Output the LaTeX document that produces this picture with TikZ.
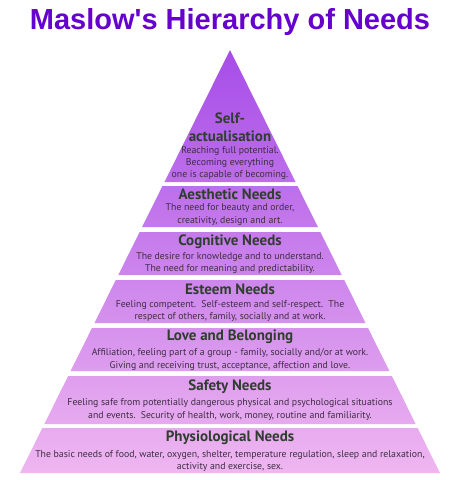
\documentclass[tikz,border=0pt]{standalone}
\usepackage{fontspec}
\setmainfont{PT Sans}
\newfontfamily\titlefont{Liberation Sans}
\definecolor{titlepurple}{HTML}{6600CC}
\definecolor{topviolet}{HTML}{A64DE8}
\definecolor{lowpink}{HTML}{EFB6F0}
\definecolor{headgreen}{HTML}{2F3E2F}
\definecolor{bodygrey}{HTML}{3D2E42}

\begin{document}
\begin{tikzpicture}[x=1pt,y=-1pt]
	\tikzstyle{head} = [font=\bfseries\fontsize{15}{18}\selectfont,text=headgreen,align=center,inner sep=0]
	\tikzstyle{desc} = [font=\fontsize{9.8}{12.3}\selectfont,text=bodygrey,align=center,inner sep=0]
	\useasboundingbox (0,0) rectangle (460,480);
	\node[font=\titlefont\bfseries\fontsize{29}{30}\selectfont,text=titlepurple](title)at(230,22){Maslow's Hierarchy of Needs};
	% layers of the pyramid, top to bottom
	\foreach \ya/\yb in {50/182,186/227,232/275,280/323,328/371,376/424,428/473}{
		\pgfmathsetmacro\wa{(\ya-50)*0.4965}
		\pgfmathsetmacro\wb{(\yb-50)*0.4965}
		\pgfmathsetmacro\pa{(\ya-50)/4.23}
		\pgfmathsetmacro\pb{(\yb-50)/4.23}
		\shade[top color=lowpink!\pa!topviolet,bottom color=lowpink!\pb!topviolet]
		(230-\wa,\ya) -- (230+\wa,\ya) -- (230+\wb,\yb) -- (230-\wb,\yb) -- cycle;
	}
	\node[head](self)at(230,127){Self-\\actualisation};
	\node[desc](self-text)at(230,163){Reaching full potential.\\Becoming everything\\one is capable of becoming.};
	\node[head](aesthetic)at(230,194){Aesthetic Needs};
	\node[desc](aesthetic-text)at(230,214.5){The need for beauty and order,\\creativity, design and art.};
	\node[head](cognitive)at(230,242){Cognitive Needs};
	\node[desc](cognitive-text)at(230,263){The desire for knowledge and to understand.\\The need for meaning and predictability.};
	\node[head](esteem)at(230,289){Esteem Needs};
	\node[desc](esteem-text)at(230,311){Feeling competent.\ \ Self-esteem and self-respect.\ \ The\\respect of others, family, socially and at work.};
	\node[head](love)at(230,337){Love and Belonging};
	\node[desc](love-text)at(230,359.5){Affiliation, feeling part of a group - family, socially and/or at work.\\Giving and receiving trust, acceptance, affection and love.};
	\node[head](safety)at(230,387){Safety Needs};
	\node[desc](safety-text)at(230,409.5){Feeling safe from potentially dangerous physical and psychological situations\\and events.\ \ Security of health, work, money, routine and familiarity.};
	\node[head](physio)at(230,438){Physiological Needs};
	\node[desc](physio-text)at(230,461){The basic needs of food, water, oxygen, shelter, temperature regulation, sleep and relaxation,\\activity and exercise, sex.};
\end{tikzpicture}
\end{document}
